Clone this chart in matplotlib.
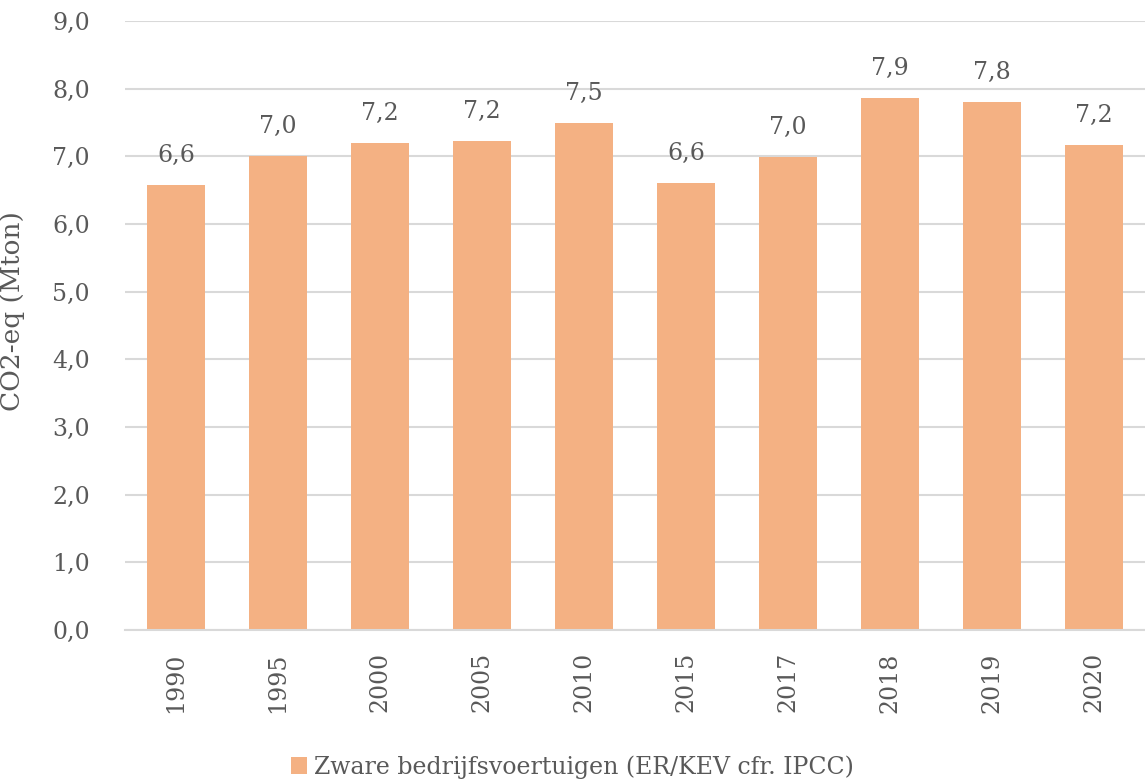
import matplotlib
matplotlib.use("Agg")
import matplotlib.pyplot as plt
import matplotlib.ticker as ticker
import numpy as np

years = ["1990", "1995", "2000", "2005", "2010", "2015", "2017", "2018", "2019", "2020"]
emissions = [6.58, 7.00, 7.20, 7.23, 7.49, 6.61, 6.99, 7.86, 7.80, 7.17]
series_name = "Zware bedrijfsvoertuigen (ER/KEV cfr. IPCC)"

bar_color = "#F4B183"
text_color = "#595959"
grid_color = "#D9D9D9"

plt.rcParams['font.family'] = ['DejaVu Serif']

fig = plt.figure(figsize=(11.45, 7.81), dpi=100)
ax = fig.add_axes([0.109, 0.1934, 0.891, 0.7797])

x = np.arange(len(years))
bars = ax.bar(x, emissions, width=0.57, color=bar_color, label=series_name, zorder=2)

for xi, v in zip(x, emissions):
    ax.annotate(f"{v:.1f}".replace('.', ','), (xi, v), xytext=(0, 13),
                textcoords='offset points', ha='center', va='bottom',
                fontsize=17, color=text_color)

ax.set_xlim(-0.5, len(years) - 0.5)
ax.set_ylim(0, 9)
ax.yaxis.set_major_locator(ticker.MultipleLocator(1))
ax.yaxis.set_major_formatter(ticker.FuncFormatter(lambda v, p: f"{v:.1f}".replace('.', ',')))
ax.set_xticks(x)
ax.set_xticklabels(years, rotation=90)

ax.grid(axis='y', color=grid_color, linewidth=1.5, zorder=0)
for s in ['top', 'right', 'left']:
    ax.spines[s].set_visible(False)
ax.spines['bottom'].set_color(grid_color)
ax.spines['bottom'].set_linewidth(1.5)

ax.tick_params(axis='both', length=0, labelsize=17, colors=text_color)
ax.tick_params(axis='x', pad=16)
ax.tick_params(axis='y', pad=25)

ax.set_ylabel("CO2-eq (Mton)", fontsize=19, color=text_color)
ax.yaxis.set_label_coords(-0.098, 0.524)

leg = fig.legend(loc='center', bbox_to_anchor=(0.5, 0.018), frameon=False,
                 fontsize=17, handlelength=0.7, handleheight=0.7, handletextpad=0.3)
for t in leg.get_texts():
    t.set_color(text_color)

fig.savefig("out.png", dpi=100)
